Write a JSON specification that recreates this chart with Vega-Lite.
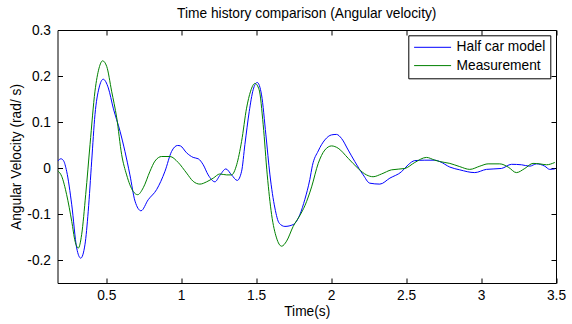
{
  "$schema": "https://vega.github.io/schema/vega-lite/v6.json",
  "autosize": {"type": "none"},
  "padding": {"left": 57.5, "top": 30, "right": 16, "bottom": 41},
  "width": 498.5,
  "height": 253,
  "background": "white",
  "config": {
    "font": "Liberation Sans",
    "view": {"stroke": "black", "strokeWidth": 1},
    "axis": {"grid": false, "domain": false, "tickColor": "black", "labelColor": "black", "titleColor": "black", "labelFontSize": 13.75, "titleFontSize": 13.75, "titleFontWeight": "normal", "labelFont": "Liberation Sans", "titleFont": "Liberation Sans"}
  },
  "title": {"text": "Time history comparison (Angular velocity)", "fontSize": 13.75, "fontWeight": "normal", "font": "Liberation Sans", "color": "black", "baseline": "alphabetic", "offset": -9},
  "data": {"values": [
    {"t": 0.176, "v": 0.015, "series": "Half car model"},
    {"t": 0.198, "v": 0.020, "series": "Half car model"},
    {"t": 0.215, "v": 0.016, "series": "Half car model"},
    {"t": 0.236, "v": -0.007, "series": "Half car model"},
    {"t": 0.27, "v": -0.080, "series": "Half car model"},
    {"t": 0.303, "v": -0.174, "series": "Half car model"},
    {"t": 0.330, "v": -0.196, "series": "Half car model"},
    {"t": 0.358, "v": -0.167, "series": "Half car model"},
    {"t": 0.380, "v": -0.094, "series": "Half car model"},
    {"t": 0.403, "v": 0.015, "series": "Half car model"},
    {"t": 0.425, "v": 0.116, "series": "Half car model"},
    {"t": 0.452, "v": 0.174, "series": "Half car model"},
    {"t": 0.480, "v": 0.193, "series": "Half car model"},
    {"t": 0.514, "v": 0.174, "series": "Half car model"},
    {"t": 0.547, "v": 0.130, "series": "Half car model"},
    {"t": 0.592, "v": 0.080, "series": "Half car model"},
    {"t": 0.625, "v": 0.036, "series": "Half car model"},
    {"t": 0.658, "v": -0.015, "series": "Half car model"},
    {"t": 0.692, "v": -0.072, "series": "Half car model"},
    {"t": 0.732, "v": -0.093, "series": "Half car model"},
    {"t": 0.780, "v": -0.069, "series": "Half car model"},
    {"t": 0.836, "v": -0.047, "series": "Half car model"},
    {"t": 0.892, "v": -0.007, "series": "Half car model"},
    {"t": 0.936, "v": 0.036, "series": "Half car model"},
    {"t": 0.976, "v": 0.049, "series": "Half car model"},
    {"t": 0.995, "v": 0.048, "series": "Half car model"},
    {"t": 1.036, "v": 0.033, "series": "Half car model"},
    {"t": 1.080, "v": 0.023, "series": "Half car model"},
    {"t": 1.114, "v": 0.020, "series": "Half car model"},
    {"t": 1.147, "v": 0.007, "series": "Half car model"},
    {"t": 1.180, "v": -0.015, "series": "Half car model"},
    {"t": 1.225, "v": -0.030, "series": "Half car model"},
    {"t": 1.258, "v": -0.016, "series": "Half car model"},
    {"t": 1.298, "v": -0.002, "series": "Half car model"},
    {"t": 1.336, "v": -0.015, "series": "Half car model"},
    {"t": 1.374, "v": -0.027, "series": "Half car model"},
    {"t": 1.403, "v": -0.007, "series": "Half car model"},
    {"t": 1.425, "v": 0.051, "series": "Half car model"},
    {"t": 1.454, "v": 0.123, "series": "Half car model"},
    {"t": 1.480, "v": 0.170, "series": "Half car model"},
    {"t": 1.507, "v": 0.186, "series": "Half car model"},
    {"t": 1.536, "v": 0.159, "series": "Half car model"},
    {"t": 1.565, "v": 0.072, "series": "Half car model"},
    {"t": 1.592, "v": -0.015, "series": "Half car model"},
    {"t": 1.625, "v": -0.087, "series": "Half car model"},
    {"t": 1.654, "v": -0.120, "series": "Half car model"},
    {"t": 1.692, "v": -0.127, "series": "Half car model"},
    {"t": 1.747, "v": -0.123, "series": "Half car model"},
    {"t": 1.792, "v": -0.101, "series": "Half car model"},
    {"t": 1.825, "v": -0.068, "series": "Half car model"},
    {"t": 1.858, "v": -0.025, "series": "Half car model"},
    {"t": 1.875, "v": 0.005, "series": "Half car model"},
    {"t": 1.914, "v": 0.037, "series": "Half car model"},
    {"t": 1.958, "v": 0.061, "series": "Half car model"},
    {"t": 2.003, "v": 0.072, "series": "Half car model"},
    {"t": 2.036, "v": 0.073, "series": "Half car model"},
    {"t": 2.070, "v": 0.064, "series": "Half car model"},
    {"t": 2.114, "v": 0.039, "series": "Half car model"},
    {"t": 2.158, "v": 0.014, "series": "Half car model"},
    {"t": 2.214, "v": -0.015, "series": "Half car model"},
    {"t": 2.258, "v": -0.033, "series": "Half car model"},
    {"t": 2.325, "v": -0.035, "series": "Half car model"},
    {"t": 2.392, "v": -0.022, "series": "Half car model"},
    {"t": 2.470, "v": -0.008, "series": "Half car model"},
    {"t": 2.514, "v": 0.007, "series": "Half car model"},
    {"t": 2.558, "v": 0.016, "series": "Half car model"},
    {"t": 2.625, "v": 0.017, "series": "Half car model"},
    {"t": 2.692, "v": 0.017, "series": "Half car model"},
    {"t": 2.725, "v": 0.014, "series": "Half car model"},
    {"t": 2.792, "v": 0.002, "series": "Half car model"},
    {"t": 2.858, "v": -0.004, "series": "Half car model"},
    {"t": 2.958, "v": -0.010, "series": "Half car model"},
    {"t": 3.036, "v": -0.003, "series": "Half car model"},
    {"t": 3.136, "v": -0.001, "series": "Half car model"},
    {"t": 3.203, "v": 0.008, "series": "Half car model"},
    {"t": 3.270, "v": 0.007, "series": "Half car model"},
    {"t": 3.325, "v": 0.004, "series": "Half car model"},
    {"t": 3.370, "v": 0.009, "series": "Half car model"},
    {"t": 3.425, "v": 0.004, "series": "Half car model"},
    {"t": 3.458, "v": -0.003, "series": "Half car model"},
    {"t": 3.492, "v": -0.002, "series": "Half car model"},
    {"t": 0.176, "v": -0.006, "series": "Measurement"},
    {"t": 0.203, "v": -0.018, "series": "Measurement"},
    {"t": 0.236, "v": -0.058, "series": "Measurement"},
    {"t": 0.27, "v": -0.116, "series": "Measurement"},
    {"t": 0.292, "v": -0.159, "series": "Measurement"},
    {"t": 0.314, "v": -0.174, "series": "Measurement"},
    {"t": 0.336, "v": -0.145, "series": "Measurement"},
    {"t": 0.363, "v": -0.058, "series": "Measurement"},
    {"t": 0.392, "v": 0.051, "series": "Measurement"},
    {"t": 0.425, "v": 0.167, "series": "Measurement"},
    {"t": 0.452, "v": 0.217, "series": "Measurement"},
    {"t": 0.476, "v": 0.233, "series": "Measurement"},
    {"t": 0.503, "v": 0.221, "series": "Measurement"},
    {"t": 0.536, "v": 0.167, "series": "Measurement"},
    {"t": 0.570, "v": 0.109, "series": "Measurement"},
    {"t": 0.603, "v": 0.029, "series": "Measurement"},
    {"t": 0.636, "v": -0.015, "series": "Measurement"},
    {"t": 0.680, "v": -0.051, "series": "Measurement"},
    {"t": 0.710, "v": -0.058, "series": "Measurement"},
    {"t": 0.747, "v": -0.043, "series": "Measurement"},
    {"t": 0.792, "v": -0.007, "series": "Measurement"},
    {"t": 0.825, "v": 0.015, "series": "Measurement"},
    {"t": 0.870, "v": 0.025, "series": "Measurement"},
    {"t": 0.925, "v": 0.025, "series": "Measurement"},
    {"t": 0.980, "v": 0.012, "series": "Measurement"},
    {"t": 1.036, "v": -0.011, "series": "Measurement"},
    {"t": 1.080, "v": -0.029, "series": "Measurement"},
    {"t": 1.125, "v": -0.035, "series": "Measurement"},
    {"t": 1.170, "v": -0.030, "series": "Measurement"},
    {"t": 1.214, "v": -0.022, "series": "Measurement"},
    {"t": 1.258, "v": -0.013, "series": "Measurement"},
    {"t": 1.303, "v": -0.015, "series": "Measurement"},
    {"t": 1.336, "v": -0.015, "series": "Measurement"},
    {"t": 1.370, "v": 0.007, "series": "Measurement"},
    {"t": 1.403, "v": 0.058, "series": "Measurement"},
    {"t": 1.436, "v": 0.130, "series": "Measurement"},
    {"t": 1.463, "v": 0.167, "series": "Measurement"},
    {"t": 1.492, "v": 0.184, "series": "Measurement"},
    {"t": 1.520, "v": 0.170, "series": "Measurement"},
    {"t": 1.547, "v": 0.094, "series": "Measurement"},
    {"t": 1.574, "v": -0.015, "series": "Measurement"},
    {"t": 1.603, "v": -0.101, "series": "Measurement"},
    {"t": 1.636, "v": -0.152, "series": "Measurement"},
    {"t": 1.670, "v": -0.170, "series": "Measurement"},
    {"t": 1.703, "v": -0.159, "series": "Measurement"},
    {"t": 1.747, "v": -0.127, "series": "Measurement"},
    {"t": 1.792, "v": -0.103, "series": "Measurement"},
    {"t": 1.825, "v": -0.082, "series": "Measurement"},
    {"t": 1.870, "v": -0.041, "series": "Measurement"},
    {"t": 1.914, "v": 0.010, "series": "Measurement"},
    {"t": 1.958, "v": 0.039, "series": "Measurement"},
    {"t": 2.003, "v": 0.048, "series": "Measurement"},
    {"t": 2.047, "v": 0.043, "series": "Measurement"},
    {"t": 2.114, "v": 0.021, "series": "Measurement"},
    {"t": 2.180, "v": -0.001, "series": "Measurement"},
    {"t": 2.236, "v": -0.015, "series": "Measurement"},
    {"t": 2.280, "v": -0.019, "series": "Measurement"},
    {"t": 2.336, "v": -0.013, "series": "Measurement"},
    {"t": 2.403, "v": -0.004, "series": "Measurement"},
    {"t": 2.492, "v": -0.001, "series": "Measurement"},
    {"t": 2.558, "v": 0.012, "series": "Measurement"},
    {"t": 2.636, "v": 0.023, "series": "Measurement"},
    {"t": 2.692, "v": 0.017, "series": "Measurement"},
    {"t": 2.725, "v": 0.014, "series": "Measurement"},
    {"t": 2.792, "v": 0.010, "series": "Measurement"},
    {"t": 2.858, "v": 0.003, "series": "Measurement"},
    {"t": 2.925, "v": -0.003, "series": "Measurement"},
    {"t": 2.992, "v": 0.004, "series": "Measurement"},
    {"t": 3.047, "v": 0.009, "series": "Measurement"},
    {"t": 3.125, "v": 0.009, "series": "Measurement"},
    {"t": 3.181, "v": 0.002, "series": "Measurement"},
    {"t": 3.236, "v": -0.010, "series": "Measurement"},
    {"t": 3.292, "v": -0.001, "series": "Measurement"},
    {"t": 3.347, "v": 0.010, "series": "Measurement"},
    {"t": 3.392, "v": 0.009, "series": "Measurement"},
    {"t": 3.436, "v": 0.007, "series": "Measurement"},
    {"t": 3.492, "v": 0.012, "series": "Measurement"}
  ]},
  "layer": [
    {
      "mark": {"type": "line", "strokeWidth": 1, "interpolate": "monotone", "clip": true},
      "encoding": {
        "x": {"field": "t", "type": "quantitative", "scale": {"domain": [0.175, 3.5], "nice": false, "zero": false},
              "axis": {"orient": "bottom", "values": [0.5, 1, 1.5, 2, 2.5, 3, 3.5], "format": "~g", "tickSize": -5, "labelPadding": 10, "title": "Time(s)", "titlePadding": 2.5, "labelFlush": false}},
        "y": {"field": "v", "type": "quantitative", "scale": {"domain": [-0.25, 0.3], "nice": false, "zero": false},
              "axis": {"orient": "left", "values": [-0.2, -0.1, 0, 0.1, 0.2, 0.3], "labelExpr": "datum.value < 0 ? '-' + format(-datum.value, '~g') : format(datum.value, '~g')", "tickSize": -5, "labelPadding": 12, "title": "Angular Velocity  (rad/ s)", "titlePadding": 3.5, "labelFlush": false}},
        "color": {"field": "series", "type": "nominal", "sort": ["Half car model", "Measurement"],
                  "scale": {"domain": ["Half car model", "Measurement"], "range": ["#0000ff", "#008000"]},
                  "legend": {"title": null, "orient": "none", "legendX": 350.8, "legendY": 5.3, "symbolType": "M-3,0H3", "symbolSize": 152, "symbolOffset": 12.3, "symbolStrokeWidth": 1, "labelFontSize": 13.75, "labelFont": "Liberation Sans", "labelColor": "black", "labelOffset": 17, "strokeColor": "black", "fillColor": "white", "padding": 5, "rowPadding": 4.3}}
      }
    },
    {
      "mark": {"type": "line", "strokeOpacity": 0},
      "encoding": {
        "x": {"field": "t", "type": "quantitative", "axis": {"orient": "top", "values": [0.5, 1, 1.5, 2, 2.5, 3, 3.5], "labels": false, "tickSize": -5, "title": null, "minExtent": 0, "maxExtent": 0}},
        "y": {"field": "v", "type": "quantitative", "axis": {"orient": "right", "values": [-0.2, -0.1, 0, 0.1, 0.2, 0.3], "labels": false, "tickSize": -5, "title": null, "minExtent": 0, "maxExtent": 0}},
        "detail": {"field": "series"}
      }
    }
  ],
  "resolve": {"axis": {"x": "independent", "y": "independent"}}
}
